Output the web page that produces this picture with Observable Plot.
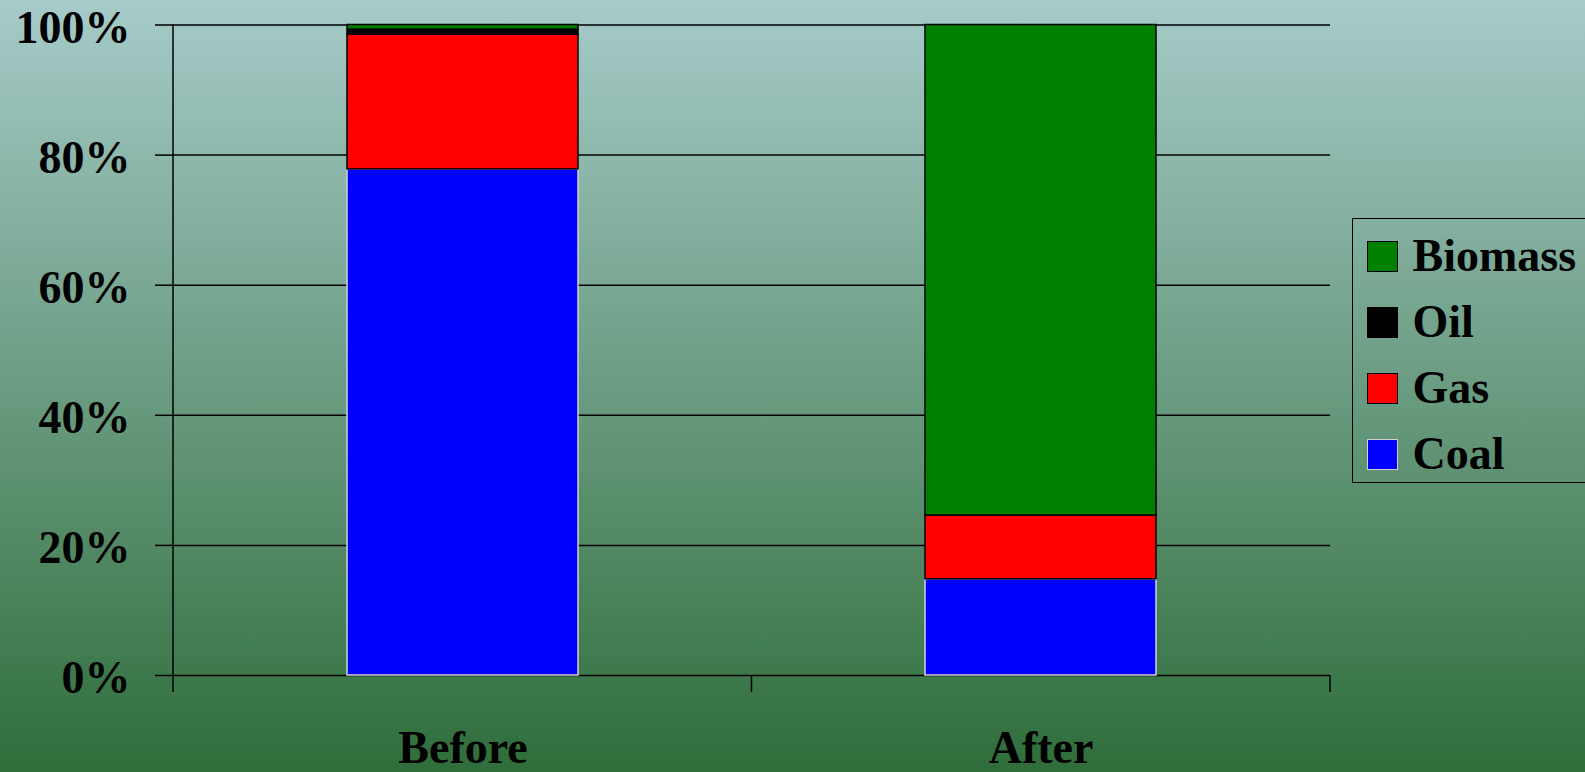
<!DOCTYPE html>
<html><head><meta charset="utf-8">
<script src="https://cdn.jsdelivr.net/npm/d3@7"></script>
<script src="https://cdn.jsdelivr.net/npm/@observablehq/plot@0.6"></script>
<style>
html,body{margin:0;padding:0;width:1585px;height:772px;overflow:hidden;}
body{background:linear-gradient(to bottom,#a6cbc9 0%,#2f6d3a 100%);font-family:"Liberation Serif","Times New Roman",serif;font-weight:bold;}
#wrap{position:relative;width:1585px;height:772px;}
#chart{position:absolute;left:0;top:0;}
#legend{position:absolute;left:1352px;top:218px;width:260px;height:265px;border:1.5px solid #000;box-sizing:border-box;padding-top:4px;}
.row{height:66px;display:flex;align-items:center;}
.sw{width:31px;height:31px;box-sizing:border-box;border:1.5px solid #000;margin-left:13.5px;margin-right:15px;flex:none;}
.lab{font-size:46px;line-height:1;color:#000;white-space:nowrap;}
</style></head><body><div id="wrap"><div id="chart"></div><div id="legend"></div></div>
<script>
const periods = ["Before", "After"];
const sources = ["Coal", "Gas", "Oil", "Biomass"];
const colors = ["#0000ff", "#ff0000", "#000000", "#008000"];
const strokes = ["#d2d2d2", "#000000", "#000000", "#000000"];
const coal = [77.8, 14.8];
const gas = [20.7, 9.8];
const oil = [0.8, 0];
const biomass = [0.7, 75.4];
const yTicks = [0, 20, 40, 60, 80, 100];
const yTickLabels = ["0%", "20%", "40%", "60%", "80%", "100%"];

const series = [coal, gas, oil, biomass];
const rows = periods.flatMap((p, i) => sources.map((s, j) => ({period: p, source: s, value: series[j][i]})));

const plot = Plot.plot({
  width: 1585, height: 772,
  marginLeft: 173, marginRight: 255, marginTop: 24.5, marginBottom: 97,
  style: {background: "transparent", fontFamily: "'Liberation Serif', 'Times New Roman', serif", fontWeight: "bold", color: "#000", overflow: "visible"},
  x: {domain: periods, paddingInner: 0.6, paddingOuter: 0.3, label: null},
  y: {domain: [0, 100], label: null},
  color: {domain: sources, range: colors},
  opacity: {type: "identity"},
  marks: [
    Plot.gridY(yTicks, {stroke: "#000", strokeOpacity: 1, strokeWidth: 1.5}),
    Plot.axisY(yTicks, {tickSize: 18, text: null, stroke: "#000", strokeWidth: 1.5, label: null}),
    Plot.axisY(yTicks, {tickSize: 0, tickPadding: 43, dy: 3, tickFormat: d => yTickLabels[yTicks.indexOf(d)], fontSize: 46, fontWeight: "bold", fill: "#000", label: null}),
    Plot.axisX({tickSize: 0, tickPadding: 55, fontSize: 46, fontWeight: "bold", fill: "#000", label: null}),
    Plot.barY(rows.filter(d => d.source === sources[0]), {x: "period", y: "value", fill: "source", stroke: strokes[0], strokeWidth: 1.5}),
    Plot.barY(rows, {x: "period", y: "value", fill: "source", order: sources, stroke: "#000", strokeWidth: 1.5,
      fillOpacity: d => d.source === sources[0] ? 0 : 1, strokeOpacity: d => d.source === sources[0] ? 0 : 1})
  ]
});
document.getElementById("chart").appendChild(plot);

// category boundary ticks and y axis line from the library's scales
const xs = plot.scale("x"), ys = plot.scale("y");
const yS = d3.scaleLinear(ys.domain, ys.range);
const n = xs.domain.length;
const R = xs.range[1] - xs.range[0];
const step = R / (n - xs.paddingInner + 2 * xs.paddingOuter);
const start = xs.range[0] + (R - step * (n - xs.paddingInner + 2 * xs.paddingOuter)) * 0.5;
const y0 = yS(0), yTop = yS(100);
const g = d3.select(plot).append("g").attr("stroke", "#000").attr("stroke-width", 1.5);
for (let i = 0; i <= n; i++) {
  const bx = start + i * step;
  g.append("line").attr("x1", bx).attr("x2", bx).attr("y1", y0).attr("y2", y0 + 17);
}
g.append("line").attr("x1", start).attr("x2", start).attr("y1", yTop).attr("y2", y0);

// legend
const legend = d3.select("#legend");
sources.slice().reverse().forEach(s => {
  const j = sources.indexOf(s);
  const row = legend.append("div").attr("class", "row");
  row.append("div").attr("class", "sw").style("background", colors[j]).style("border-color", strokes[j]);
  row.append("div").attr("class", "lab").text(s);
});
</script>
</body></html>
